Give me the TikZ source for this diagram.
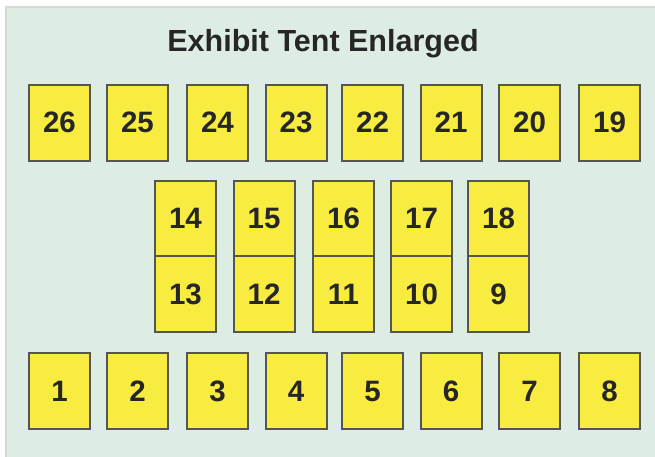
\documentclass[tikz,border=0pt]{standalone}
\usepackage{fontspec}
\setmainfont{Liberation Sans}
\definecolor{tentbg}{HTML}{DEEDE3}
\definecolor{tentframe}{HTML}{D6D9D7}
\definecolor{boothfill}{HTML}{F7EC3F}
\definecolor{boothline}{HTML}{555555}
\definecolor{boothtext}{HTML}{262626}
\tikzset{
  booth/.style={draw=boothline, line width=2pt, fill=boothfill, text=boothtext,
    minimum width=61pt, minimum height=76pt, inner sep=0pt,
    font=\fontsize{29.5}{32}\selectfont\bfseries},
  halfbooth/.style={booth, minimum height=75.5pt}
}
\begin{document}
\begin{tikzpicture}[x=1pt, y=-1pt]
    \useasboundingbox (0,0) rectangle (655,456);
    
    % Hintergrund des Zeltes
    \fill[white] (0,0) rectangle (655,456);
    \draw[tentframe, line width=2pt, fill=tentbg] (6,7) rectangle (670,470);
    
    % Titel
    \node[text=boothtext, font=\fontsize{30.5}{33}\selectfont\bfseries] (titel) at (323,44) {Exhibit Tent Enlarged};
    
    % Obere Reihe (26 bis 19)
    \foreach \nr/\x in {26/59.5, 25/137.5, 24/217.5, 23/296, 22/372.5, 21/451, 20/529.5, 19/609.5}
        \node[booth] (stand\nr) at (\x,122.5) {\nr};
    
    % Mittlere Doppelreihe (14 bis 18 oben, 13 bis 9 unten)
    \foreach \nr/\x in {14/185.5, 15/264, 16/343.5, 17/421.5, 18/498.5}
        \node[halfbooth] (stand\nr) at (\x,218.5) {\nr};
    \foreach \nr/\x in {13/185.5, 12/264, 11/343.5, 10/421.5, 9/498.5}
        \node[halfbooth] (stand\nr) at (\x,294) {\nr};
    
    % Untere Reihe (1 bis 8)
    \foreach \nr/\x in {1/59.5, 2/137.5, 3/217.5, 4/296, 5/372.5, 6/451, 7/529.5, 8/609.5}
        \node[booth] (stand\nr) at (\x,391) {\nr};
\end{tikzpicture}
\end{document}
